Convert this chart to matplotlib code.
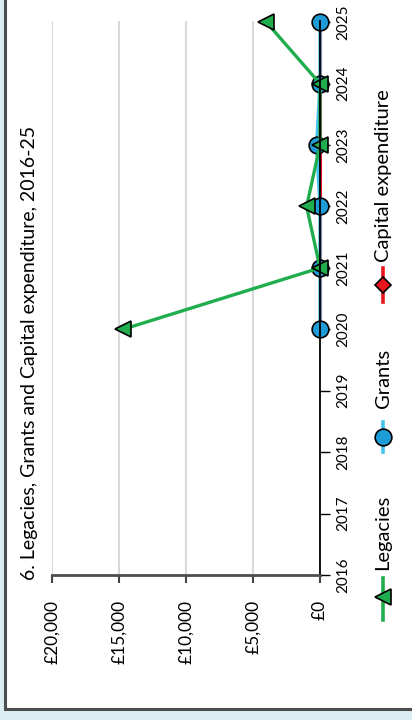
# Legacies, grants and capital expenditure chart (drawn rotated, as in the source)

import matplotlib
matplotlib.use("Agg")
import matplotlib.pyplot as plt
from matplotlib.lines import Line2D
from matplotlib.patches import Rectangle

plt.rcParams['font.family'] = ['Lato', 'DejaVu Sans']

# data
years = [2020, 2021, 2022, 2023, 2024, 2025]
legacies = [14700, 0, 1000, 0, 0, 4000]
grants = [0, 0, 0, 250, 0, 0]
capital = [0, 0, 0, 0, 0, 0]

year_ticks = list(range(2016, 2026))
value_ticks = [0, 5000, 10000, 15000, 20000]
value_labels = ["£0", "£5,000", "£10,000", "£15,000", "£20,000"]
title = "6. Legacies, Grants and Capital expenditure, 2016-25"

green = "#20ad4e"
blue = "#1e9cd8"
light_blue = "#45c3ef"
red = "#e8161c"

W, H = 412, 720
fig = plt.figure(figsize=(W / 100, H / 100), dpi=100)
fig.patch.set_facecolor("#dbeef3")

def fx(px):
    return px / W

def fy(py):
    return 1 - py / H

# outer frame (runs off the top and right edges)
fig.add_artist(Rectangle((fx(5), fy(709)), 1.2, 1.2, transform=fig.transFigure,
                         facecolor="white", edgecolor="#4d4d4d", lw=2.2, zorder=-5))

ax = fig.add_axes([fx(52), fy(575), (320 - 52) / W, (575 - 21) / H])
ax.set_facecolor("none")

# value axis runs along the bottom (reversed), years along the right side
ax.plot(capital, years, color=red, lw=2.2, marker="D", markersize=8,
        markerfacecolor=red, markeredgecolor="black", markeredgewidth=1, clip_on=False)
ax.plot(grants, years, color=light_blue, lw=2.4, marker="o", markersize=12,
        markerfacecolor=blue, markeredgecolor="black", markeredgewidth=1.2, clip_on=False)
ax.plot(legacies, years, color=green, lw=2.4, marker="<", markersize=11,
        markerfacecolor=green, markeredgecolor="black", markeredgewidth=1.2, clip_on=False)

ax.set_xlim(20000, 0)
ax.set_ylim(2016, 2025.02)

ax.set_xticks(value_ticks)
ax.set_xticklabels(value_labels, rotation=90, fontsize=12.5)
ax.yaxis.tick_right()
ax.set_yticks(year_ticks)
ax.set_yticklabels([str(y) for y in year_ticks], rotation=90, fontsize=11, va="center")

ax.tick_params(axis="x", length=6, width=1.5, color="#444444", pad=12)
ax.tick_params(axis="y", length=7, width=1, color="black", pad=5)

ax.grid(axis="x", color="#d9d9d9", lw=1.5)
ax.grid(axis="y", visible=False)
ax.set_axisbelow(True)

ax.spines["top"].set_visible(False)
ax.spines["left"].set_visible(False)
ax.spines["bottom"].set_color("#4d4d4d")
ax.spines["bottom"].set_linewidth(2)
ax.spines["right"].set_color("black")
ax.spines["right"].set_linewidth(1.3)

# title, rotated
fig.text(fx(30), fy(580), title, rotation=90, ha="center", va="bottom", fontsize=14)

# legend, drawn by hand because it is rotated
legend_items = [
    ("Legacies", green, green, "<", 11, 620, 578, 597, 570),
    ("Grants", light_blue, blue, "o", 12, 452, 422, 437, 408),
    ("Capital expenditure", red, red, "D", 8, 302, 268, 285, 262),
]
for label, lc, mc, mk, ms, y0, y1, ym, yt in legend_items:
    fig.add_artist(Line2D([fx(383), fx(383)], [fy(y0), fy(y1)], color=lc, lw=2.6,
                          transform=fig.transFigure))
    fig.add_artist(Line2D([fx(383)], [fy(ym)], marker=mk, markersize=ms, color=lc,
                          markerfacecolor=mc, markeredgecolor="black", markeredgewidth=1.2,
                          transform=fig.transFigure))
    fig.text(fx(383), fy(yt), label, rotation=90, ha="center", va="bottom", fontsize=14.5)

fig.savefig("out.png", dpi=100, facecolor=fig.get_facecolor())
